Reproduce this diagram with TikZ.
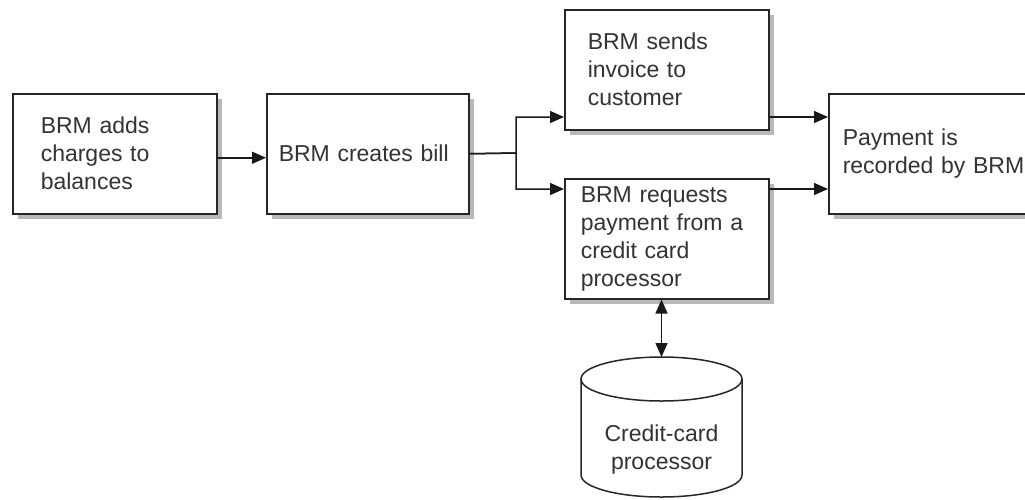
\documentclass[tikz,border=0pt]{standalone}
\usepackage{fontspec}
\setmainfont{Liberation Sans}
\usetikzlibrary{arrows.meta,shadows}

\begin{document}
\begin{tikzpicture}[x=1pt,y=-1pt,
  box/.style={draw=black!85, line width=1.5pt, fill=white, minimum height=120pt,
    inner ysep=0pt, align=left, anchor=north west, text=black!80,
    font=\fontsize{23}{28}\selectfont,
    drop shadow={shadow xshift=5pt, shadow yshift=-5pt, fill=black!28, opacity=1}},
  dbline/.style={draw=black!85, line width=1.5pt, fill=white},
  txt/.style={align=center, text=black!80, font=\fontsize{23}{28}\selectfont},
  arr/.style={-{Triangle[length=14pt,width=12pt]}, line width=1.5pt, draw=black!90},
  dbl/.style={{Triangle[length=14pt,width=12pt]}-{Triangle[length=14pt,width=12pt]}, line width=1.5pt, draw=black!90}]

\useasboundingbox (0,0) rectangle (1025,499);

\node[box, inner xsep=28pt, text width=148pt] (charges) at (12,93) {BRM adds\\charges to\\balances};
\node[box, inner xsep=12pt, text width=178pt] (bill) at (266,93) {BRM creates bill};
\node[box, inner xsep=23pt, text width=158pt] (invoice) at (564,9) {BRM sends\\invoice to\\customer};
\node[box, inner xsep=16pt, text width=172pt] (request) at (564,178) {BRM requests\\payment from a\\credit card\\processor};
\node[box, inner xsep=14pt, text width=200pt] (payment) at (828,93) {Payment is\\recorded by BRM};

% credit-card processor store
\filldraw[dbline] (581,379) -- (581,475) arc[start angle=180, end angle=360, x radius=80.5pt, y radius=22pt] -- (742,379);
\filldraw[dbline] (661.5,379) ellipse [x radius=80.5pt, y radius=22pt];
\coordinate (proctop) at (661.5,357);
\node[txt] (proc) at (661.5,450) {Credit-card\\processor};

\coordinate (split) at (516,153);
\coordinate (up) at (516,117);
\coordinate (dn) at (516,189);

\draw[arr] ([yshift=-4pt]charges.east) -- ([yshift=-4pt]bill.west);
\draw[arr] (bill.east) -- (split) |- (invoice.west |- up);
\draw[arr] (bill.east) -- (split) |- (request.west |- dn);
\draw[arr] (invoice.east |- up) -- (payment.west |- up);
\draw[arr] (request.east |- dn) -- (payment.west |- dn);
\draw[dbl] (proctop |- request.south) -- (proctop);

\end{tikzpicture}
\end{document}
